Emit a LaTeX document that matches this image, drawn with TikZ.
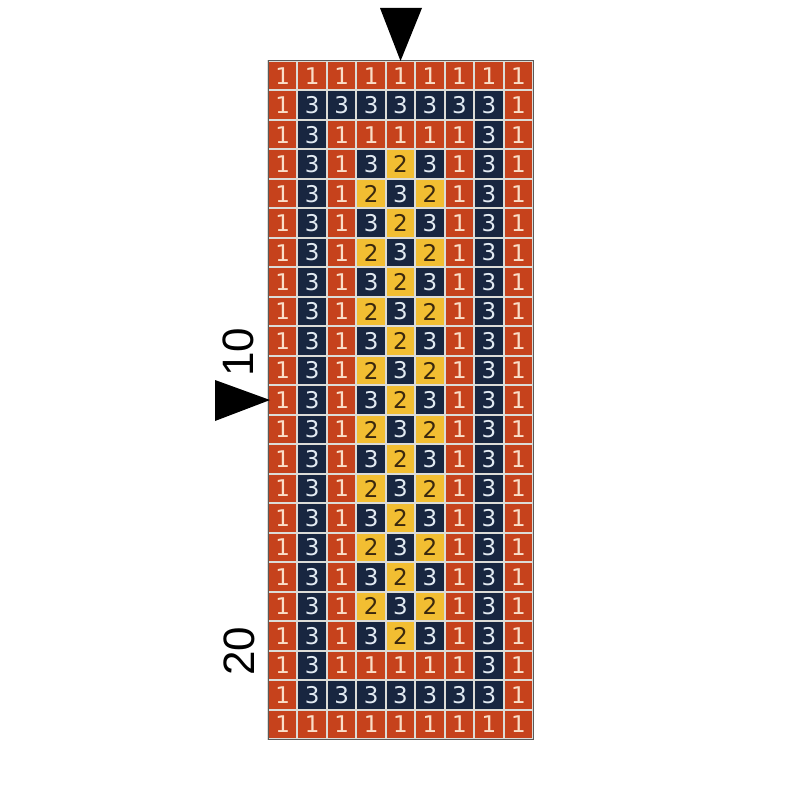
\documentclass[tikz,border=0pt]{standalone}
\usepackage{fontspec}
\setmainfont{DejaVu Sans}
\newfontfamily\labelfont{Liberation Sans}
\definecolor{cone}{RGB}{198,66,28}
\definecolor{cthree}{RGB}{24,38,64}
\definecolor{ctwo}{RGB}{242,190,50}
\definecolor{tone}{RGB}{250,222,200}
\definecolor{tthree}{RGB}{226,234,242}
\definecolor{ttwo}{RGB}{58,40,14}
\definecolor{gapline}{RGB}{220,220,215}
\definecolor{frameline}{RGB}{90,90,90}
\tikzset{
  cell/.style={minimum width=29.45pt,minimum height=29.48pt,inner sep=0pt,outer sep=0pt,
    draw=gapline,line width=2pt,font=\fontsize{23}{23}\selectfont},
  v1/.style={fill=cone,text=tone},
  v2/.style={fill=ctwo,text=ttwo},
  v3/.style={fill=cthree,text=tthree},
  marker/.style={fill=black},
  rowlabel/.style={rotate=90,font=\labelfont\fontsize{44}{44}\selectfont,inner sep=0pt}
}
\begin{document}
\begin{tikzpicture}[x=1pt,y=-1pt]
\useasboundingbox (0,0) rectangle (800,800);
\fill[white] (0,0) rectangle (800,800);
\foreach \row [count=\r] in {
 {1,1,1,1,1,1,1,1,1},
 {1,3,3,3,3,3,3,3,1},
 {1,3,1,1,1,1,1,3,1},
 {1,3,1,3,2,3,1,3,1},
 {1,3,1,2,3,2,1,3,1},
 {1,3,1,3,2,3,1,3,1},
 {1,3,1,2,3,2,1,3,1},
 {1,3,1,3,2,3,1,3,1},
 {1,3,1,2,3,2,1,3,1},
 {1,3,1,3,2,3,1,3,1},
 {1,3,1,2,3,2,1,3,1},
 {1,3,1,3,2,3,1,3,1},
 {1,3,1,2,3,2,1,3,1},
 {1,3,1,3,2,3,1,3,1},
 {1,3,1,2,3,2,1,3,1},
 {1,3,1,3,2,3,1,3,1},
 {1,3,1,2,3,2,1,3,1},
 {1,3,1,3,2,3,1,3,1},
 {1,3,1,2,3,2,1,3,1},
 {1,3,1,3,2,3,1,3,1},
 {1,3,1,1,1,1,1,3,1},
 {1,3,3,3,3,3,3,3,1},
 {1,1,1,1,1,1,1,1,1}}
{
  \foreach \v [count=\c] in \row {
    \node[cell,v\v] (c-\r-\c) at ({268+(\c-0.5)*29.45},{61+(\r-0.5)*29.48}) {\v};
  }
}
\draw[frameline,line width=1pt] (c-1-1.north west) rectangle (c-23-9.south east);
\coordinate (toptip) at (c-1-5.north);
\fill[marker] (380,8) -- (422,8) -- (toptip) -- cycle;
\coordinate (lefttip) at ([xshift=2pt]c-12-1.west);
\fill[marker] (215,380) -- (215,421) -- (lefttip) -- cycle;
\node[rowlabel] (lab10) at (238,352) {10};
\node[rowlabel] (lab20) at (239,651) {20};
\end{tikzpicture}
\end{document}
